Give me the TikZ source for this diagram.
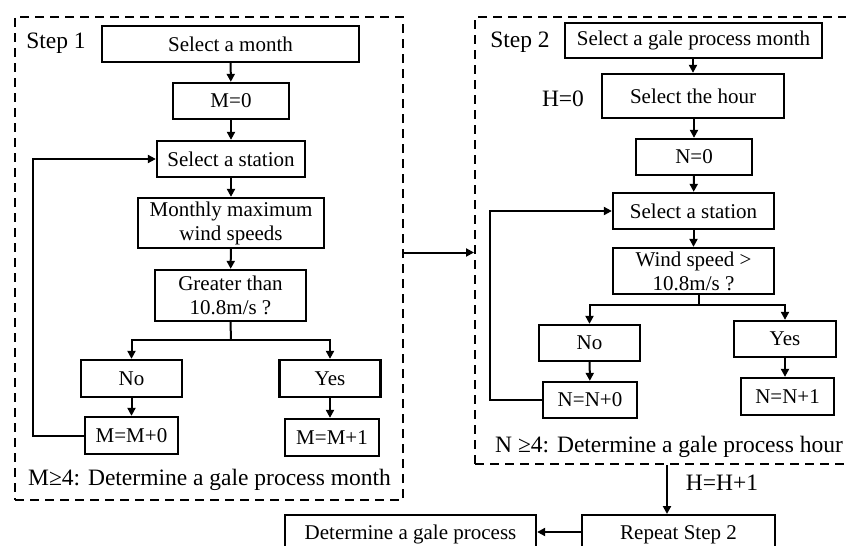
\documentclass[tikz,border=0pt]{standalone}
\usepackage{fontspec}
\setmainfont{Liberation Serif}
\usetikzlibrary{arrows.meta}
\newcommand\bxfont{\fontsize{21}{24}\selectfont}
\newcommand\lbfont{\fontsize{23.5}{27}\selectfont}
\tikzset{
  box/.style={draw, line width=2.3pt, inner sep=0pt, align=center, font=\bxfont},
  dbox/.style={draw, line width=2pt, dash pattern=on 9pt off 6pt, inner sep=0pt},
  lbl/.style={inner sep=0pt, font=\lbfont},
  conn/.style={line width=2pt},
  arr/.style={line width=2pt, -{Triangle[length=8pt,width=8pt]}},
}
\begin{document}
\begin{tikzpicture}[x=1pt,y=-1pt]
\useasboundingbox (0,0) rectangle (846,546);
\clip (0,0) rectangle (846,546);
% ---------- Step 1 ----------
\node[dbox, minimum width=388pt, minimum height=483pt] (s1) at (209,258.5) {};
\node[lbl] (st1) at (56,43) {Step 1};
\node[box, minimum width=257pt, minimum height=36pt] (month) at (230.5,44) {Select a month};
\node[box, minimum width=116pt, minimum height=36pt] (m0) at (231,101) {M=0};
\node[box, minimum width=148pt, minimum height=36pt] (sta1) at (231,159) {Select a station};
\node[box, minimum width=186pt, minimum height=50pt] (mmax) at (231,223) {Monthly maximum\\wind speeds};
\node[box, minimum width=151pt, minimum height=51pt] (gt) at (230.5,295.5) {Greater than\\10.8m/s ?};
\node[box, minimum width=101pt, minimum height=37pt] (no1) at (131.5,378.5) {No};
\node[box, minimum width=101pt, minimum height=37pt] (yes1) at (330,378.5) {Yes};
\node[box, minimum width=93pt, minimum height=37pt] (mm0) at (131.5,435.5) {M=M+0};
\node[box, minimum width=94pt, minimum height=37pt] (mm1) at (332,437.5) {M=M+1};
\node[lbl] (res1) at (209.5,480) {M≥4: Determine a gale process month};
\coordinate (j1) at (231,340);
\draw[arr] (month) -- (m0);
\draw[arr] (m0) -- (sta1);
\draw[arr] (sta1) -- (mmax);
\draw[arr] (mmax) -- (gt);
\draw[conn] (gt.south) -- (j1);
\draw[arr] (j1) -| (no1.north);
\draw[arr] (j1) -| (yes1.north);
\draw[arr] (no1) -- (mm0);
\draw[arr] (yes1.south) -- (yes1.south |- mm1.north);
\draw[arr] (mm0.west) -- ++(-51,0) |- (sta1.west);
% ---------- Step 2 ----------
\node[dbox, minimum width=405pt, minimum height=447pt] (s2) at (677.5,240.5) {};
\node[lbl] (st2) at (520,42) {Step 2};
\node[box, minimum width=257pt, minimum height=35pt] (gpm) at (693.5,40.5) {Select a gale process month};
\node[lbl] (h0) at (563,99) {H=0};
\node[box, minimum width=182pt, minimum height=44pt] (hour) at (693,96) {Select the hour};
\node[box, minimum width=116pt, minimum height=36pt] (n0) at (694,157) {N=0};
\node[box, minimum width=161pt, minimum height=36pt] (sta2) at (693.5,211) {Select a station};
\node[box, minimum width=161pt, minimum height=46pt] (ws) at (693.5,271) {Wind speed >\\10.8m/s ?};
\node[box, minimum width=101pt, minimum height=36pt] (no2) at (589.5,343) {No};
\node[box, minimum width=102pt, minimum height=36pt] (yes2) at (785,339) {Yes};
\node[box, minimum width=94pt, minimum height=36pt] (nn0) at (590,400) {N=N+0};
\node[box, minimum width=93pt, minimum height=37pt] (nn1) at (787.5,396.5) {N=N+1};
\node[lbl, anchor=west] (res2) at (495,447) {N ≥4: Determine a gale process hour};
\coordinate (j2) at (699,305);
\draw[arr] (gpm.south -| hour.north) -- (hour.north);
\draw[arr] (hour.south -| n0.north) -- (n0.north);
\draw[arr] (n0) -- (sta2);
\draw[arr] (sta2) -- (ws);
\draw[conn] (ws.south -| j2) -- (j2);
\draw[arr] (j2) -| (no2.north);
\draw[arr] (j2) -| (yes2.north);
\draw[arr] (no2) -- (nn0);
\draw[arr] (yes2.south) -- (yes2.south |- nn1.north);
\draw[arr] (nn0.west) -- ++(-52,0) |- (sta2.west);
% ---------- link between steps ----------
\coordinate (lk) at (440,252.5);
\draw[arr] (s1.east |- lk) -- (s2.west |- lk);
% ---------- bottom ----------
\node[box, anchor=north, minimum width=193pt, inner ysep=0pt, text height=24pt, text depth=20pt] (rep) at (678.5,514) {Repeat Step 2};
\node[box, anchor=north, minimum width=251pt, inner ysep=0pt, text height=24pt, text depth=20pt] (det) at (410.5,514) {Determine a gale process};
\node[lbl] (hh) at (722,483) {H=H+1};
\coordinate (dn) at (667,490);
\coordinate (ly) at (560,532);
\draw[arr] (s2.south -| dn) -- (rep.north -| dn);
\draw[arr] (rep.west |- ly) -- (det.east |- ly);
\end{tikzpicture}
\end{document}
